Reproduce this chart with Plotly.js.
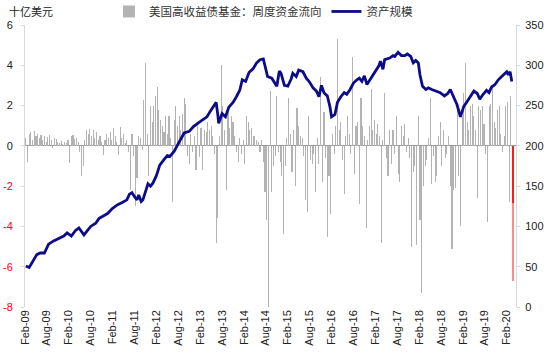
<!DOCTYPE html>
<html>
<head>
<meta charset="utf-8">
<script src="https://cdn.plot.ly/plotly-3.0.1.min.js"></script>
<style>html,body{margin:0;padding:0;background:#fff;}#chart{width:547px;height:355px;}</style>
</head>
<body>
<div id="chart"></div>
<script>
// Weekly high-yield fund flows (bn USD), sampled every two weeks from Feb-09
const weeklyFlows = [
  0.4, -0.8, 0.6, 0.7, 0.3, 0.75, 0.5, 0.6, 0.4, 0.55,
  0.3, 0.5, 0.2, 0.45, 0.55, 0.3, -0.1, 0.4, 0.35, 0.2,
  0.15, 0.25, 0.1, 0.2, 0.15, 0.3, -0.85, 0.5, 0.55, 0.35,
  0.4, 0.2, -0.3, -1.5, -1.0, 0.3, 0.8, 0.6, 0.85, 0.5,
  0.8, 0.4, 0.7, 0.3, 0.5, 0.2, -0.45, 0.3, 0.6, 0.4,
  0.7, 0.3, 0.9, 0.5, 0.2, -0.45, 0.95, 0.4, 0.6, 0.15,
  0.3, -0.3, -2.2, 0.6, -0.5, -3.0, -1.6, 0.5, 0.4, -0.2,
  2.3, 4.1, 0.6, -1.5, 2.0, 1.2, 2.0, 2.5, 2.9, 1.8,
  1.3, 1.0, 0.7, 1.5, 0.6, 1.5, 0.4, -2.8, 1.3, 2.0,
  1.0, 1.5, 0.8, 1.6, 2.4, 2.1, -0.5, -0.9, 0.6, -0.3,
  0.5, -1.2, 1.1, -0.55, 0.9, -1.2, 0.8, 0.7, 1.2, 0.8,
  1.0, 0.5, -0.4, -4.8, -3.6, 0.5, 4.0, 2.0, 0.8, -2.2,
  1.7, 0.9, 1.5, 1.2, 0.5, -0.3, -0.8, 0.4, -0.4, 0.3,
  -0.9, 1.5, 1.2, 0.8, 0.9, 0.5, 0.5, 0.3, 0.2, -0.3,
  0.3, -0.8, -2.3, -3.7, -8.0, 2.7, -2.3, -1.0, -0.5, 2.5,
  -0.3, -0.8, -1.5, -4.4, -1.0, 0.4, 2.4, 0.6, -1.3, 0.8,
  -2.0, 1.9, 1.0, 0.5, 0.4, -0.5, -2.7, -3.3, 1.5, -0.7,
  -0.9, -0.4, -2.3, 0.4, -0.9, 3.4, -1.8, 1.7, -0.6, -4.5,
  -1.5, -3.4, 0.6, -0.4, 1.0, 5.3, 0.8, 1.2, -0.7, -2.4,
  0.5, 1.5, 0.6, -0.4, 4.4, -1.4, 1.0, 1.2, -2.9, 2.4,
  1.0, 0.5, -4.1, 0.3, 1.0, 2.8, 0.8, 1.3, 0.6, 1.1,
  0.5, -4.8, 0.3, 2.6, -0.6, -1.5, 0.8, -0.9, 0.8, -0.4,
  1.5, -1.4, -1.8, 1.0, 0.5, 1.1, -0.3, 0.4, -0.6, -5.0,
  -1.3, -1.0, -4.9, 1.5, -3.7, -7.3, -2.0, -1.0, -0.7, 0.4,
  2.4, -1.9, -0.5, -1.8, -1.5, 0.5, 1.2, -1.0, 0.8, -0.6,
  -0.4, 0.5, -2.0, -5.1, -2.2, -2.1, 1.9, -1.5, -4.0, 1.5,
  2.6, 4.1, 1.2, 0.8, 2.0, 2.1, 1.5, 0.8, -2.6, 2.0,
  1.8, 2.0, 1.1, -0.4, -3.8, 2.0, 2.1, 2.9, 1.2, 0.9,
  1.8, 2.0, 0.6, -0.3, 0.5, 2.0, 2.2, -2.8, 2.5
];
// Latest weeks highlighted in red / pink
const latestWeek = [579];
const latestFlowRed = [-2.85];
const latestFlowPink = [-6.7];

// Asset size (bn USD), right axis
const lineWeek = [1,5,14,18,23,28,34,40,46,50,55,60,64,70,78,84,88,93,98,104,110,116,121,124,127,130,133,135,138,140,143,146,149,152,156,160,165,169,172,177,181,185,189,195,200,205,211,216,220,224,227,229,230,234,238,242,247,251,255,258,262,266,271,275,279,283,286,288,293,297,299,302,304,308,312,316,318,322,325,330,334,338,342,346,349,352,355,359,362,364,368,371,375,379,382,386,390,394,397,400,403,406,411,415,420,422,425,427,433,437,439,443,447,451,454,458,461,464,467,469,472,476,479,483,487,493,498,502,505,509,513,517,521,525,529,533,537,540,544,548,551,554,558,562,566,570,572,574,576,578];
const assetSize = [51,49,65,67,67,78,82,85.5,88,92,88,95,98,89.5,100,104,110,113,116,122.5,127,130,133,140,142,137,133,139,131,133,143,153,150,154,163,176,183,188,187,193,201,208,216,218,224,228,232,236,243,249,254,238,228,240,236,248,254,261,269,282,280,291,296,303,307,308,296,286,284,278,274,293,290,275,274,283,290,286,294,292,284,279,272,268,261,275,266,262,249,236,239,254,261,266,264,270,278,282,284,280,287,276,284,290,299,305,295,307,309,312,311,316,312,312,314,311,303,306,303,288,274,270,272,270,268,266,262,265,270,261,251,236,249,255,261,268,265,258,264,269,266,273,276,282,286,290,292,288,292,280];

const tickLabels = ['Feb-09','Aug-09','Feb-10','Aug-10','Feb-11','Aug-11','Feb-12','Aug-12','Feb-13','Aug-13','Feb-14','Aug-14','Feb-15','Aug-15','Feb-16','Aug-16','Feb-17','Aug-17','Feb-18','Aug-18','Feb-19','Aug-19','Feb-20'];
const leftTicks = [-8,-6,-4,-2,0,2,4,6];
const rightTicks = [0,50,100,150,200,250,300,350];

const flowWeeks = weeklyFlows.map((v, i) => 2 * i + 1);
const tickWeeks = tickLabels.map((t, i) => 26 * i);
const leftTickText = leftTicks.map(v => v < 0 ? '<span style="color:#ff0000">' + v + '</span>' : String(v));

const traces = [
  {type:'bar', x: flowWeeks, y: weeklyFlows, width: 1.3, name:'美国高收益债基金：周度资金流向',
   marker:{color:'#b3b3b3', line:{width:0}}, hoverinfo:'skip'},
  {type:'bar', x: latestWeek, y: latestFlowPink, width: 2.2, showlegend:false,
   marker:{color:'#ff8a8a', line:{width:0}}, hoverinfo:'skip'},
  {type:'bar', x: latestWeek, y: latestFlowRed, width: 2.2, showlegend:false,
   marker:{color:'#ff1a1a', line:{width:0}}, hoverinfo:'skip'},
  {type:'scatter', mode:'lines', x: lineWeek, y: assetSize, yaxis:'y2', name:'资产规模',
   line:{color:'#0c0c8a', width:2.8}, hoverinfo:'skip'}
];

const tickFont = {family:'Liberation Sans, Arial, sans-serif', size:11, color:'#222'};
const layout = {
  width:547, height:355,
  margin:{l:25, r:31, t:25, b:48, autoexpand:false},
  paper_bgcolor:'#fff', plot_bgcolor:'#fff',
  barmode:'overlay', bargap:0,
  showlegend:true,
  legend:{orientation:'h', x:0.171, xanchor:'left', y:1.048, yanchor:'middle',
          font:{family:'Noto Sans CJK SC, sans-serif', size:11.5, color:'#333'},
          bgcolor:'rgba(0,0,0,0)', itemwidth:30, tracegroupgap:0},
  xaxis:{range:[0,583], tickmode:'array', tickvals: tickWeeks, ticktext: tickLabels,
         tickangle:-90, showgrid:false, zeroline:false, showline:false, ticks:'',
         tickfont: tickFont, fixedrange:true},
  yaxis:{range:[-8,6], tickmode:'array', tickvals: leftTicks, ticktext: leftTickText,
         showgrid:false, zeroline:true, zerolinecolor:'#9a9a9a', zerolinewidth:1,
         showline:true, linecolor:'#d9d9d9', linewidth:1, ticks:'outside', ticklen:3,
         tickcolor:'#d9d9d9', ticklabelstandoff:6, tickfont: tickFont, fixedrange:true},
  yaxis2:{range:[0,350], overlaying:'y', side:'right', tickmode:'array', tickvals: rightTicks,
          showgrid:false, zeroline:false, showline:true, linecolor:'#d9d9d9', linewidth:1,
          ticks:'outside', ticklen:3, tickcolor:'#d9d9d9', ticklabelstandoff:3,
          tickfont: tickFont, fixedrange:true},
  annotations:[{text:'十亿美元', xref:'paper', yref:'paper', x:-0.037, y:1.048,
                xanchor:'left', yanchor:'middle', showarrow:false,
                font:{family:'Noto Sans CJK SC, sans-serif', size:11, color:'#222'}}]
};

Plotly.newPlot('chart', traces, layout, {displayModeBar:false, staticPlot:true});
</script>
</body>
</html>
